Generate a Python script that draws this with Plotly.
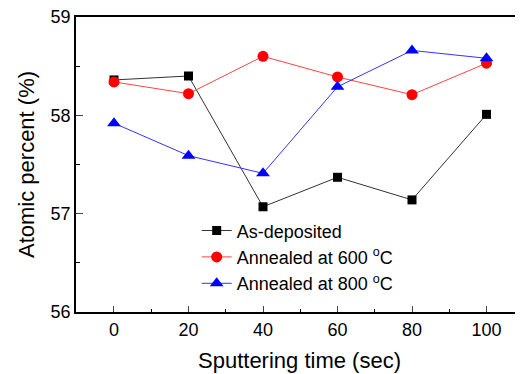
import plotly.graph_objects as go

time_sec = [0, 20, 40, 60, 80, 100]
as_deposited = [58.36, 58.40, 57.07, 57.37, 57.14, 58.01]
annealed_600 = [58.34, 58.22, 58.60, 58.39, 58.21, 58.53]
annealed_800 = [57.92, 57.59, 57.41, 58.29, 58.66, 58.58]

series_names = ["As-deposited", "Annealed at 600 <sup>o</sup>C", "Annealed at 800 <sup>o</sup>C"]
x_ticks = [0, 20, 40, 60, 80, 100]
y_ticks = [56, 57, 58, 59]

fig = go.Figure()
fig.add_trace(go.Scatter(x=time_sec, y=as_deposited, name=series_names[0], mode="lines+markers",
                         line=dict(color="#333333", width=1),
                         marker=dict(symbol="square", size=9, color="black")))
fig.add_trace(go.Scatter(x=time_sec, y=annealed_600, name=series_names[1], mode="lines+markers",
                         line=dict(color="#ff4444", width=1),
                         marker=dict(symbol="circle", size=11, color="red")))
fig.add_trace(go.Scatter(x=time_sec, y=annealed_800, name=series_names[2], mode="lines+markers",
                         line=dict(color="#3333ff", width=1),
                         marker=dict(symbol="triangle-up", size=12, color="blue")))

# page body has an 8px default margin, so the figure is sized/offset to compensate
fig.update_layout(
    width=515, height=366,
    margin=dict(l=68, r=0, t=9, b=62),
    paper_bgcolor="white", plot_bgcolor="white",
    font=dict(family="Liberation Sans, Arial, sans-serif", color="black"),
    showlegend=True,
    legend=dict(x=0.27, y=0.338, xanchor="left", yanchor="top",
                bgcolor="rgba(0,0,0,0)", font=dict(size=18), tracegroupgap=0),
    xaxis=dict(range=[-10.2, 109.8], tickvals=x_ticks, ticks="inside", ticklen=6, tickwidth=1.2,
               showline=True, linecolor="black", linewidth=1.8, mirror=True, automargin=False,
               ticklabeloverflow="allow",
               showgrid=False, zeroline=False, tickfont=dict(size=18),
               minor=dict(dtick=10, tick0=0, ticks="inside", ticklen=3, tickcolor="black", showgrid=False),
               title=dict(text="Sputtering time (sec)", font=dict(size=22), standoff=14)),
    yaxis=dict(range=[56, 59], tickvals=y_ticks, ticks="inside", ticklen=7, tickwidth=1.2,
               showline=True, linecolor="black", linewidth=1.8, automargin=False,
               ticklabeloverflow="allow",
               showgrid=False, zeroline=False, tickfont=dict(size=18),
               minor=dict(dtick=0.5, tick0=56, ticks="inside", ticklen=4, tickcolor="black", showgrid=False),
               title=dict(text="Atomic percent (%)", font=dict(size=22), standoff=10)),
)

fig.write_html("out.html")
